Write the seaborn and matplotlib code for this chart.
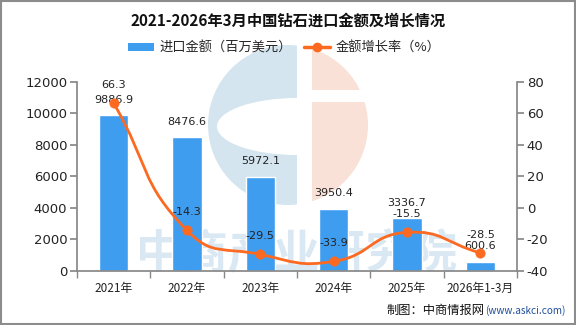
import numpy as np
import pandas as pd
import matplotlib
matplotlib.use("Agg")
import matplotlib.pyplot as plt
import seaborn as sns
from matplotlib.path import Path
from matplotlib.patches import PathPatch, Rectangle, Patch, Circle, Ellipse
from matplotlib.lines import Line2D
from matplotlib.ticker import FixedLocator

categories = ["2021年", "2022年", "2023年", "2024年", "2025年", "2026年1-3月"]
import_value = [9886.9, 8476.6, 5972.1, 3950.4, 3336.7, 600.6]
growth_rate = [66.3, -14.3, -29.5, -33.9, -15.5, -28.5]
value_labels = ["9886.9", "8476.6", "5972.1", "3950.4", "3336.7", "600.6"]
rate_labels = ["66.3", "-14.3", "-29.5", "-33.9", "-15.5", "-28.5"]
left_ticks = [0, 2000, 4000, 6000, 8000, 10000, 12000]
right_ticks = [-40, -20, 0, 20, 40, 60, 80]

BLUE = "#3f9df0"
ORANGE = "#fc6a22"
GRAY = "#888888"
TXT = "#222222"
LOGO_BLUE = "#d4e5f0"
LOGO_ORANGE = "#f9e1d7"

sns.set_theme(style="white")
plt.rcParams['font.family'] = ['Noto Sans CJK SC', 'DejaVu Sans']
plt.rcParams['axes.unicode_minus'] = False

W, H = 576, 325
fig = plt.figure(figsize=(W / 100, H / 100), dpi=100)
tr = fig.dpi_scale_trans


def px(x, y):
    return (x / 100.0, (H - y) / 100.0)


# background logo (decorative)
clip_left = Rectangle(px(0, 325), 2.97, 3.25, transform=tr)
clip_right = Rectangle(px(312, 325), 2.64, 3.25, transform=tr)
c_blue = Circle(px(288, 125), 0.80, transform=tr, color=LOGO_BLUE, zorder=-3, lw=0)
c_blue.set_clip_path(clip_left)
e_white = Ellipse(px(297, 126.5), 1.60, 0.57, transform=tr, color="white", zorder=-2, lw=0)
e_white.set_clip_path(clip_left)
c_or = Circle(px(288, 125), 0.80, transform=tr, color=LOGO_ORANGE, zorder=-3, lw=0)
c_or.set_clip_path(clip_right)
bar_white = Rectangle(px(310, 102), 0.70, 0.12, transform=tr, color="white", zorder=-2, lw=0)
for p in (c_blue, e_white, c_or, bar_white):
    fig.add_artist(p)

ax = fig.add_axes([0.1337, 0.166, 0.764, 0.583])
ax.patch.set_visible(False)

df = pd.DataFrame({"cat": categories, "value": import_value, "rate": growth_rate})

# watermark
ax.text(0.50, 0.085, "中商产业研究院", transform=ax.transAxes, fontsize=33,
        color="#d9e8f2", ha="center", va="center", zorder=0, fontweight="bold")

sns.barplot(data=df, x="cat", y="value", color=BLUE, width=0.4, ax=ax,
            saturation=1, zorder=2)
ax.set_xlim(-0.5, 5.5)
ax.set_ylim(0, 12000)
ax.set_yticks(left_ticks)
ax.set_xlabel("")
ax.set_ylabel("")

for i, v in enumerate(import_value):
    ax.annotate(value_labels[i], (i, v), xytext=(0, 11), textcoords="offset points",
                ha="center", va="center", fontsize=8, color=TXT,
                family="DejaVu Sans", zorder=6)

ax2 = ax.twinx()
ax2.patch.set_visible(False)
ax2.set_ylim(-40, 80)
ax2.set_yticks(right_ticks)
ax2.set_xlim(-0.5, 5.5)

# smooth line (bezier) through the data points
xs = np.arange(len(growth_rate), dtype=float)
pts = ax2.transData.transform(np.column_stack([xs, growth_rate]))
smooth = 0.5
n = len(pts)
cps_after, cps_before = [], []
for i in range(n):
    p = pts[i]
    prev = pts[i - 1] if i > 0 else p
    nxt = pts[i + 1] if i < n - 1 else p
    v = nxt - prev
    d0 = np.hypot(*(p - prev))
    d1 = np.hypot(*(p - nxt))
    s = d0 + d1
    r0 = d0 / s if s else 0
    r1 = d1 / s if s else 0
    cps_before.append(p - v * smooth * r0)
    cps_after.append(p + v * smooth * r1)
verts = [pts[0]]
codes = [Path.MOVETO]
for i in range(n - 1):
    verts += [cps_after[i], cps_before[i + 1], pts[i + 1]]
    codes += [Path.CURVE4] * 3
verts = ax2.transData.inverted().transform(np.array(verts))
ax2.add_patch(PathPatch(Path(verts, codes), facecolor="none", edgecolor=ORANGE,
                        lw=2.0, zorder=4, capstyle="round"))
sns.scatterplot(x=xs, y=growth_rate, ax=ax2, color=ORANGE, s=45,
                edgecolor=ORANGE, zorder=5, legend=False)

for i, r in enumerate(growth_rate):
    ax2.annotate(rate_labels[i], (i, r), xytext=(0, 13), textcoords="offset points",
                 ha="center", va="center", fontsize=8, color=TXT,
                 family="DejaVu Sans", zorder=6)

# axes styling
for a in (ax, ax2):
    for sp in a.spines.values():
        sp.set_visible(False)
ax.spines["left"].set_visible(True)
ax.spines["left"].set_color(GRAY)
ax.spines["bottom"].set_visible(True)
ax.spines["bottom"].set_color(GRAY)
ax2.spines["right"].set_visible(True)
ax2.spines["right"].set_color(GRAY)
ax.tick_params(axis="y", length=5, color=GRAY, labelsize=9.5, labelcolor=TXT, pad=2,
               left=True)
ax2.tick_params(axis="y", length=5, color=GRAY, labelsize=9.5, labelcolor=TXT, pad=2,
                right=True)
ax.xaxis.set_minor_locator(FixedLocator(np.arange(-0.5, 6, 1.0)))
ax.tick_params(axis="x", which="major", length=0, labelsize=8.5, labelcolor=TXT, pad=8)
ax.tick_params(axis="x", which="minor", length=5, color=GRAY, bottom=True)
ax2.set_ylabel("")
for lab in ax.get_yticklabels() + ax2.get_yticklabels():
    lab.set_family("DejaVu Sans")

# title & legend
fig.text(0.5, 0.937, "2021-2026年3月中国钻石进口金额及增长情况", ha="center", va="center",
         fontsize=11, fontweight="bold", color="#111111")
handles = [Patch(facecolor=BLUE, edgecolor="none", label="进口金额（百万美元）"),
           Line2D([0], [0], color=ORANGE, lw=2.5, marker="o", markersize=6,
                  label="金额增长率（%）")]
fig.legend(handles=handles, loc="center", bbox_to_anchor=(0.493, 0.853), ncol=2,
           frameon=False, fontsize=9.5, handlelength=2.0, handleheight=0.6,
           columnspacing=0.9, handletextpad=0.4)

# footer
fig.text(0.842, 0.046, "制图：中商情报网", ha="right", va="center", fontsize=8.8,
         color="#111111")
fig.text(0.843, 0.046, "(www.askci.com)", ha="left", va="center", fontsize=7.2,
         color="#1f4e9a")

fig.add_artist(Rectangle((0.002, 0.003), 0.996, 0.994, transform=fig.transFigure,
                         fill=False, edgecolor="#8c8c8c", lw=1.5))

fig.savefig("out.png", dpi=100)
